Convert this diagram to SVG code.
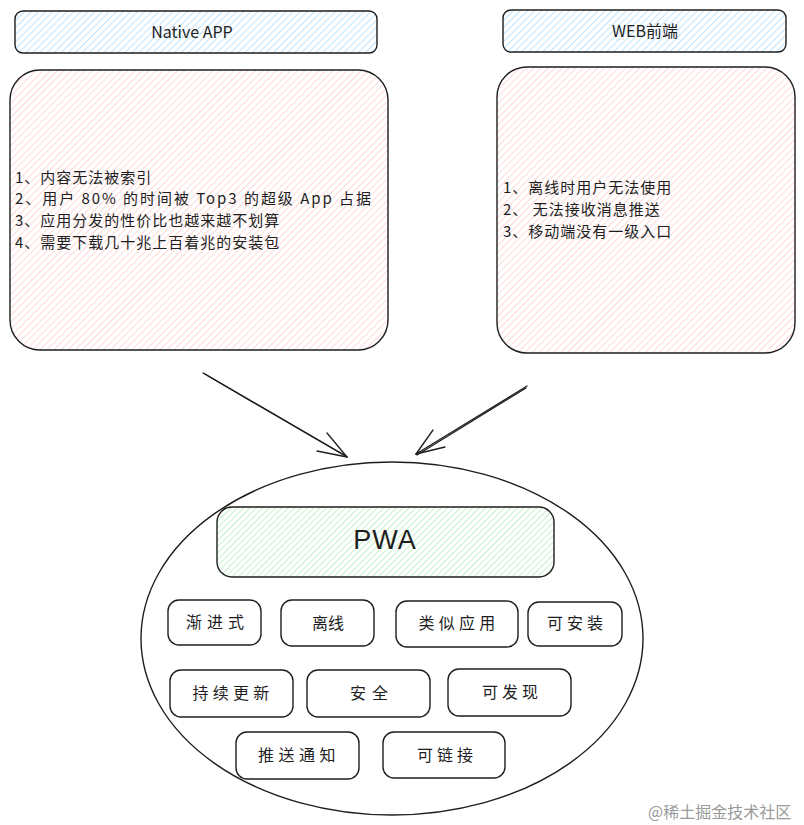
<svg xmlns="http://www.w3.org/2000/svg" width="804" height="825" viewBox="0 0 804 825">
<defs>
<pattern id="hBlue" width="5" height="5" patternUnits="userSpaceOnUse" patternTransform="rotate(45)">
<line x1="0" y1="0" x2="0" y2="5" stroke="#a5d8ff" stroke-width="1.4"/>
</pattern>
<pattern id="hPink" width="5" height="5" patternUnits="userSpaceOnUse" patternTransform="rotate(45)">
<line x1="0" y1="0" x2="0" y2="5" stroke="#ffc4c4" stroke-width="1.3"/>
</pattern>
<pattern id="hGreen" width="4.5" height="4.5" patternUnits="userSpaceOnUse" patternTransform="rotate(45)">
<line x1="0" y1="0" x2="0" y2="4.5" stroke="#a8ebb2" stroke-width="1.3"/>
</pattern>
</defs>
<style>
.box{stroke:#1e1e1e;stroke-width:1.4;fill:none}
.t{font-family:"Noto Sans CJK SC","Liberation Sans",sans-serif;font-size:16px;fill:#1e1e1e}
.b{font-size:15px;letter-spacing:1px}
.c{text-anchor:middle}
.ln{stroke:#1e1e1e;stroke-width:1.3;fill:none;stroke-linecap:round}
</style>
<rect width="804" height="825" fill="#ffffff"/>

<g id="native-header">
<rect x="15" y="11" width="362" height="42" rx="8" fill="url(#hBlue)"/>
<rect class="box" x="15" y="11" width="362" height="42" rx="8"/>
<text class="t c" x="192" y="38">Native APP</text>
</g>

<g id="native-body">
<rect x="10" y="70" width="378" height="280" rx="30" fill="url(#hPink)"/>
<rect class="box" x="10" y="70" width="378" height="280" rx="30"/>
<text class="t b" x="15" y="182.5">1、内容无法被索引</text>
<text class="t b" x="15" y="204.2" textLength="357" lengthAdjust="spacing">2、用户 80% 的时间被 Top3 的超级 App 占据</text>
<text class="t b" x="15" y="225.9">3、应用分发的性价比也越来越不划算</text>
<text class="t b" x="15" y="247.6">4、需要下载几十兆上百着兆的安装包</text>
</g>

<g id="web-header">
<rect x="503" y="10" width="283" height="42" rx="8" fill="url(#hBlue)"/>
<rect class="box" x="503" y="10" width="283" height="42" rx="8"/>
<text class="t c" x="645" y="37">WEB前端</text>
</g>

<g id="web-body">
<rect x="497" y="67" width="298" height="286" rx="30" fill="url(#hPink)"/>
<rect class="box" x="497" y="67" width="298" height="286" rx="30"/>
<text class="t b" x="503" y="193.3">1、离线时用户无法使用</text>
<text class="t b" x="503" y="215">2、 无法接收消息推送</text>
<text class="t b" x="503" y="236.7">3、移动端没有一级入口</text>
</g>

<g id="connectors">
<line class="ln" x1="203" y1="373" x2="347" y2="457"/>
<line class="ln" x1="205" y1="374" x2="346" y2="456" stroke-width="0.7"/>
<line class="ln" x1="347" y1="457" x2="327" y2="433"/>
<line class="ln" x1="347" y1="457" x2="317" y2="451"/>
<line class="ln" x1="527" y1="386" x2="416" y2="454"/>
<line class="ln" x1="526" y1="388" x2="417" y2="455" stroke-width="0.7"/>
<line class="ln" x1="416" y1="454" x2="433" y2="430"/>
<line class="ln" x1="416" y1="454" x2="445" y2="447"/>
</g>

<g id="pwa-group">
<ellipse class="box" cx="392" cy="638.5" rx="251" ry="176.5"/>
</g>

<g id="pwa">
<rect x="217" y="507" width="337" height="70" rx="15" fill="url(#hGreen)"/>
<rect class="box" x="217" y="507" width="337" height="70" rx="15"/>
<text class="c" x="385" y="549" font-family="Liberation Sans, sans-serif" font-size="27" fill="#1e1e1e" letter-spacing="1">PWA</text>
</g>

<g id="f1"><rect class="box" x="168" y="600" width="93" height="45" rx="11"/><text class="t c" x="217.5" y="628" letter-spacing="5">渐进式</text></g>
<g id="f2"><rect class="box" x="281" y="600" width="93" height="46" rx="11"/><text class="t c" x="328" y="629">离线</text></g>
<g id="f3"><rect class="box" x="396" y="601" width="122" height="46" rx="11"/><text class="t c" x="459" y="629" letter-spacing="4.3">类似应用</text></g>
<g id="f4"><rect class="box" x="528" y="602" width="94" height="44" rx="11"/><text class="t c" x="577" y="629" letter-spacing="4">可安装</text></g>
<g id="f5"><rect class="box" x="170" y="670" width="123" height="47" rx="11"/><text class="t c" x="233" y="699" letter-spacing="4.3">持续更新</text></g>
<g id="f6"><rect class="box" x="307" y="670" width="123" height="47" rx="11"/><text class="t c" x="372" y="699" letter-spacing="6">安全</text></g>
<g id="f7"><rect class="box" x="448" y="669" width="123" height="47" rx="11"/><text class="t c" x="512" y="698" letter-spacing="4">可发现</text></g>
<g id="f8"><rect class="box" x="236" y="732" width="123" height="47" rx="11"/><text class="t c" x="299" y="761" letter-spacing="4.5">推送通知</text></g>
<g id="f9"><rect class="box" x="383" y="732" width="122" height="46" rx="11"/><text class="t c" x="447" y="761" letter-spacing="4">可链接</text></g>

<text x="648" y="818" font-family="Noto Sans CJK SC, sans-serif" font-size="16" fill="#9a9a9a">@稀土掘金技术社区</text>
</svg>
